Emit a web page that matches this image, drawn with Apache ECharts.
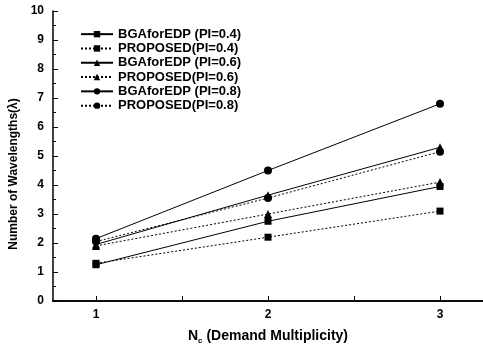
<!DOCTYPE html>
<html>
<head>
<meta charset="utf-8">
<script src="https://cdn.jsdelivr.net/npm/echarts@6/dist/echarts.min.js"></script>
<style>
  html, body { margin: 0; padding: 0; background: #fff; }
  #chart { width: 483px; height: 346px; }
</style>
</head>
<body>
<div id="chart"></div>
<script>
// demand multiplicity (x values)
const demandMultiplicity = [1, 2, 3]

// number of wavelengths per series
const bga04 = [1.25, 2.75, 3.95]
const proposed04 = [1.3, 2.2, 3.1]
const bga06 = [1.95, 3.65, 5.3]
const proposed06 = [1.9, 3.0, 4.1]
const bga08 = [2.15, 4.5, 6.8]
const proposed08 = [2.05, 3.55, 5.15]

const seriesNames = [
  'BGAforEDP (PI=0.4)',
  'PROPOSED(PI=0.4)',
  'BGAforEDP (PI=0.6)',
  'PROPOSED(PI=0.6)',
  'BGAforEDP (PI=0.8)',
  'PROPOSED(PI=0.8)'
]
const seriesValues = [bga04, proposed04, bga06, proposed06, bga08, proposed08]
const symbols = ['rect', 'rect', 'triangle', 'triangle', 'circle', 'circle']
const symbolSizes = [7, 7, 8, 8, 8, 8]

const font = '"Liberation Sans", Arial, sans-serif'

const chart = echarts.init(document.getElementById('chart'), null, { renderer: 'canvas' })

const series = seriesNames.map((name, i) => ({
  name,
  type: 'line',
  data: demandMultiplicity.map((x, j) => [x, seriesValues[i][j]]),
  symbol: symbols[i],
  symbolSize: symbolSizes[i],
  color: '#000',
  itemStyle: { color: '#000' },
  lineStyle: {
    color: '#000',
    width: 1,
    type: i % 2 === 0 ? 'solid' : [2, 2]
  },
  animation: false
}))

chart.setOption({
  backgroundColor: '#fff',
  animation: false,
  grid: { left: 53, top: 11, right: 0, bottom: 45, outerBoundsMode: 'none', containLabel: false },
  legend: {
    orient: 'vertical',
    left: 75,
    top: 22,
    itemWidth: 32,
    itemHeight: 8,
    itemGap: 0,
    data: seriesNames,
    textStyle: { fontFamily: font, fontSize: 13, fontWeight: 'bold', color: '#000', lineHeight: 14.3 }
  },
  xAxis: [{
    type: 'value',
    min: 0.75,
    max: 3.25,
    interval: 0.25,
    name: '{n|N}{s|c} (Demand Multiplicity)',
    nameLocation: 'middle',
    nameGap: 27,
    nameTextStyle: {
      fontFamily: font, fontSize: 14, fontWeight: 'bold', color: '#000',
      rich: {
        n: { fontFamily: font, fontSize: 14, fontWeight: 'bold', color: '#000' },
        s: { fontFamily: font, fontSize: 8, fontWeight: 'bold', color: '#000', padding: [9, 0, 0, 0] }
      }
    },
    axisLine: { show: true, onZero: false, lineStyle: { color: '#000', width: 1.5 } },
    axisTick: {
      show: true, inside: true, length: 5, lineStyle: { color: '#000' },
      customValues: [1, 1.5, 2, 2.5, 3]
    },
    axisLabel: {
      fontFamily: font, fontSize: 12, fontWeight: 'bold', color: '#000', margin: 8,
      customValues: [1, 2, 3]
    },
    splitLine: { show: false }
  }, {
    type: 'value',
    position: 'top',
    min: 0.75,
    max: 3.25,
    axisLine: { show: true, lineStyle: { color: '#000', width: 1.5 } },
    axisTick: { show: false },
    axisLabel: { show: false },
    splitLine: { show: false }
  }],
  yAxis: {
    type: 'value',
    min: 0,
    max: 10,
    interval: 1,
    name: 'Number of Wavelengths(λ)',
    nameLocation: 'middle',
    nameGap: 33,
    nameTextStyle: { fontFamily: font, fontSize: 12, fontWeight: 'bold', color: '#000', padding: [0, 0, 0, -36] },
    axisLine: { show: true, lineStyle: { color: '#000', width: 1.5 } },
    axisTick: { show: true, inside: true, length: 5, lineStyle: { color: '#000' } },
    minorTick: { show: true, splitNumber: 2, length: 3, lineStyle: { color: '#000' } },
    axisLabel: { fontFamily: font, fontSize: 12, fontWeight: 'bold', color: '#000', margin: 9 },
    splitLine: { show: false }
  },
  series
})
</script>
</body>
</html>
